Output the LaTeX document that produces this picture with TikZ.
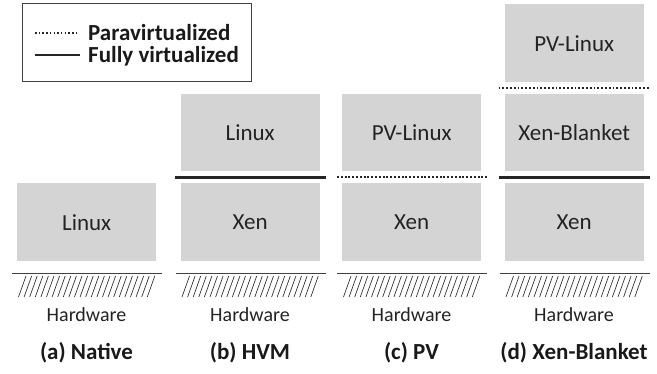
\documentclass[tikz,border=0pt]{standalone}
\usepackage{fontspec}
\setmainfont{Carlito}
\definecolor{boxgray}{RGB}{212,212,212}
\definecolor{txt}{RGB}{35,35,35}
\begin{document}
\begin{tikzpicture}[x=1pt,y=-1pt,
  layerbox/.style={fill=boxgray, draw=none, minimum width=139pt, minimum height=78pt,
    inner sep=0pt, anchor=north west, text=txt, font=\fontsize{23}{27}\selectfont},
  fullsep/.style={line width=2.4pt, draw=black!85},
  parasep/.style={line width=2pt, draw=black!85, dash pattern=on 1.9pt off 1.9pt},
  hwline/.style={line width=1.1pt, draw=black!75},
  hatchline/.style={line width=0.7pt, draw=black!80},
  hwlabel/.style={text=txt, font=\fontsize{20}{24}\selectfont, inner sep=0pt},
  caption/.style={text=black!90, font=\fontsize{23}{27}\selectfont\bfseries, inner sep=0pt},
  legtext/.style={text=black!90, font=\fontsize{23}{27}\selectfont\bfseries, inner sep=0pt, anchor=base west}
]
\useasboundingbox (0,0) rectangle (657,374);

% legend
\node[draw=black!75, line width=0.9pt, minimum width=229pt, minimum height=78pt, inner sep=0pt, anchor=north west] (legend) at (22,3) {};
\coordinate (pv1) at (35,33);
\coordinate (pv2) at (77,33);
\coordinate (fv1) at (35,55);
\coordinate (fv2) at (80,55);
\draw[line width=1.6pt, draw=black!85, dash pattern=on 1.5pt off 2.2pt] (pv1) -- (pv2);
\draw[line width=2pt, draw=black!85] (fv1) -- (fv2);
\node[legtext] (pvtext) at (88,40.5) {Paravirtualized};
\node[legtext] (fvtext) at (88,62.5) {Fully virtualized};

% boxes
\node[layerbox] (a1) at (17,183) {Linux};
\node[layerbox] (b1) at (180.5,183) {Xen};
\node[layerbox, minimum height=77pt] (b2) at (180.5,94) {Linux};
\node[layerbox] (c1) at (342,183) {Xen};
\node[layerbox, minimum height=77pt] (c2) at (342,94) {PV-Linux};
\node[layerbox] (d1) at (504.5,183) {Xen};
\node[layerbox, minimum height=77pt] (d2) at (504.5,94) {Xen-Blanket};
\node[layerbox] (d3) at (504.5,4) {PV-Linux};

% separators
\draw[fullsep] ([xshift=-6pt,yshift=5.5pt]b1.north west) -- ([xshift=6pt,yshift=5.5pt]b1.north east);
\draw[parasep] ([xshift=-5pt,yshift=5.5pt]c1.north west) -- ([xshift=6pt,yshift=5.5pt]c1.north east);
\draw[fullsep] ([xshift=-6pt,yshift=5.5pt]d1.north west) -- ([xshift=6pt,yshift=5.5pt]d1.north east);
\draw[parasep] ([xshift=-6pt,yshift=6pt]d2.north west) -- ([xshift=6pt,yshift=6pt]d2.north east);

% hardware
\foreach \n/\c in {a/17,b/180.5,c/342,d/504.5}{
  \draw[hwline] ([xshift=-5pt,yshift=-12pt]\n1.south west) -- ([xshift=6pt,yshift=-12pt]\n1.south east);
  \foreach \k in {0,...,23}{
    \draw[hatchline] (\c+1.5+\k*5.6,297) -- ++(7.5,-21);
  }
  \node[hwlabel] (hw\n) at (\c+69.5,315) {Hardware};
}

% captions
\node[caption] (capa) at (86.5,353) {(a) Native};
\node[caption] (capb) at (250,353) {(b) HVM};
\node[caption] (capc) at (411.5,353) {(c) PV};
\node[caption] (capd) at (574,353) {(d) Xen-Blanket};
\end{tikzpicture}
\end{document}
